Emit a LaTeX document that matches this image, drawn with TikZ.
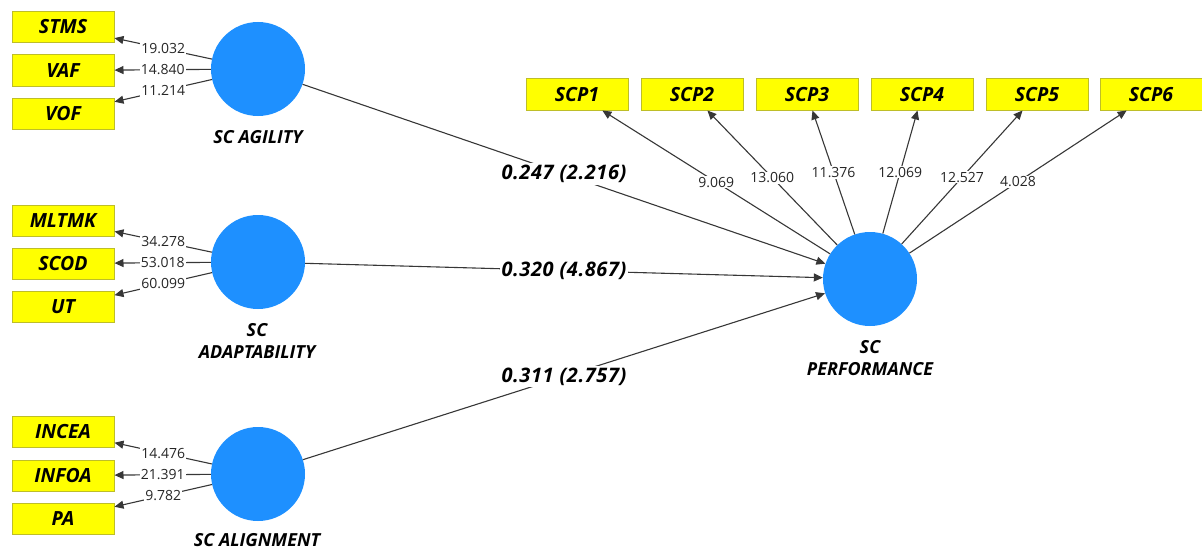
\documentclass[tikz,border=0pt]{standalone}
\usepackage{fontspec}
\setmainfont{Open Sans}
\usetikzlibrary{arrows.meta}
\definecolor{boxyellow}{RGB}{255,255,0}
\definecolor{boxedge}{RGB}{190,190,40}
\definecolor{lvblue}{RGB}{30,144,255}
\definecolor{linegray}{RGB}{55,55,55}
\begin{document}
\begin{tikzpicture}[x=1pt,y=-1pt,
 ind/.style={draw=boxedge, fill=boxyellow, line width=1pt, minimum width=102pt, minimum height=31pt, inner sep=0pt, font=\fontsize{19.5}{22}\selectfont\bfseries\itshape},
 lv/.style={circle, fill=lvblue, minimum size=94pt, inner sep=0pt},
 lvname/.style={align=center, font=\fontsize{18}{22}\selectfont\bfseries\itshape},
 conn/.style={draw=linegray, line width=1.1pt, -{Triangle[length=9pt,width=8pt]}},
 ld/.style={fill=white, inner sep=1pt, font=\fontsize{14}{16}\selectfont, text=black!85},
 pc/.style={fill=white, inner sep=2pt, font=\fontsize{20}{22}\selectfont\bfseries\itshape\addfontfeature{LetterSpace=3}}
]
\useasboundingbox (0,0) rectangle (1202,551);

% latent variables
\node[lv] (agi) at (258,69) {};
\node[lv] (ada) at (258,262) {};
\node[lv] (ali) at (258,474) {};
\node[lv] (perf) at (870,279) {};

\node[lvname] (agiN) at (258,137) {SC AGILITY};
\node[lvname] (adaN) at (257,341) {SC\\ADAPTABILITY};
\node[lvname] (aliN) at (257,540) {SC ALIGNMENT};
\node[lvname] (perfN) at (870,358) {SC\\PERFORMANCE};

% indicators
\node[ind] (stms) at (63,27) {STMS};
\node[ind] (vaf) at (63,70.5) {VAF};
\node[ind] (vof) at (63,113.5) {VOF};
\node[ind] (mltmk) at (63,220.5) {MLTMK};
\node[ind] (scod) at (63,263.5) {SCOD};
\node[ind] (ut) at (63,307) {UT};
\node[ind] (incea) at (63,431.5) {INCEA};
\node[ind] (infoa) at (63,475.5) {INFOA};
\node[ind] (pa) at (63,518.5) {PA};

\node[ind] (scp1) at (577,94.5) {SCP1};
\node[ind] (scp2) at (692,94.5) {SCP2};
\node[ind] (scp3) at (807,94.5) {SCP3};
\node[ind] (scp4) at (922,94.5) {SCP4};
\node[ind] (scp5) at (1037,94.5) {SCP5};
\node[ind] (scp6) at (1151,94.5) {SCP6};

% outer loadings
\draw[conn] (agi) -- node[ld] {19.032} (stms);
\draw[conn] (agi) -- node[ld] {14.840} (vaf);
\draw[conn] (agi) -- node[ld] {11.214} (vof);
\draw[conn] (ada) -- node[ld] {34.278} (mltmk);
\draw[conn] (ada) -- node[ld] {53.018} (scod);
\draw[conn] (ada) -- node[ld] {60.099} (ut);
\draw[conn] (ali) -- node[ld] {14.476} (incea);
\draw[conn] (ali) -- node[ld] {21.391} (infoa);
\draw[conn] (ali) -- node[ld] {9.782} (pa);

\draw[conn] (perf) -- node[ld] {9.069} (scp1);
\draw[conn] (perf) -- node[ld] {13.060} (scp2);
\draw[conn] (perf) -- node[ld] {11.376} (scp3);
\draw[conn] (perf) -- node[ld] {12.069} (scp4);
\draw[conn] (perf) -- node[ld] {12.527} (scp5);
\draw[conn] (perf) -- node[ld] {4.028} (scp6);

% path coefficients
\draw[conn] (agi) -- node[pc] {0.247 (2.216)} (perf);
\draw[conn] (ada) -- node[pc] {0.320 (4.867)} (perf);
\draw[conn] (ali) -- node[pc] {0.311 (2.757)} (perf);
\end{tikzpicture}
\end{document}
